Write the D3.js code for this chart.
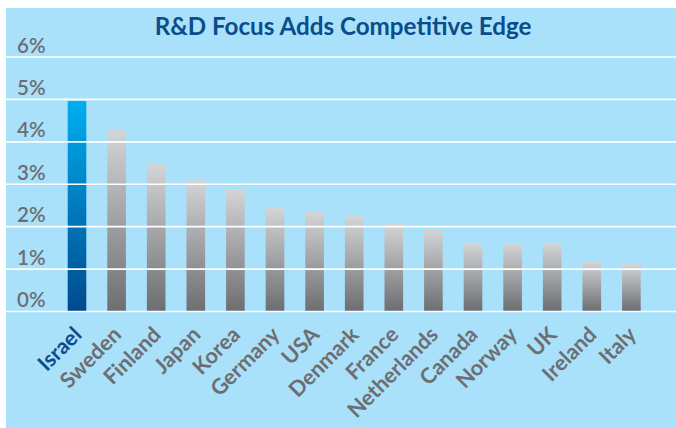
<!DOCTYPE html>
<html lang="en">
<head>
    <meta charset="UTF-8"/>
    <title>R&amp;D Focus Adds Competitive Edge</title>
    <script src="https://d3js.org/d3.v7.min.js"></script>
    <style>
        body { margin: 0; background: #ffffff; }
        text { font-family: Lato, "Open Sans", sans-serif; }
    </style>
</head>
<body>
    <script>
        var w = 676;
        var h = 428;

        // R&D spending as % of GDP
        var countries = ["Israel", "Sweden", "Finland", "Japan", "Korea", "Germany", "USA",
            "Denmark", "France", "Netherlands", "Canada", "Norway", "UK", "Ireland", "Italy"];
        var values = [4.95, 4.27, 3.47, 3.1, 2.87, 2.43, 2.35, 2.24, 2.05, 1.91, 1.6, 1.6, 1.6, 1.16, 1.11];
        var yTicks = [0, 1, 2, 3, 4, 5, 6];
        var highlight = "Israel";

        var svg = d3.select("body")
            .append("svg")
            .attr("width", w)
            .attr("height", h);

        var defs = svg.append("defs");

        var blueGrad = defs.append("linearGradient")
            .attr("id", "blueGrad")
            .attr("x1", 0).attr("y1", 0).attr("x2", 0).attr("y2", 1);
        blueGrad.append("stop").attr("offset", "0%").attr("stop-color", "#00aeef");
        blueGrad.append("stop").attr("offset", "100%").attr("stop-color", "#004a8f");

        var greyGrad = defs.append("linearGradient")
            .attr("id", "greyGrad")
            .attr("x1", 0).attr("y1", 0).attr("x2", 0).attr("y2", 1);
        greyGrad.append("stop").attr("offset", "0%").attr("stop-color", "#d3d5d7");
        greyGrad.append("stop").attr("offset", "100%").attr("stop-color", "#6d6e71");

        // panel
        svg.append("rect")
            .attr("x", 6)
            .attr("y", 8)
            .attr("width", w - 6)
            .attr("height", h - 8)
            .attr("fill", "#a9e0fa");

        var xScale = d3.scaleBand()
            .domain(countries)
            .range([46.7, 661.7])
            .padding(0.53);

        var yScale = d3.scaleLinear()
            .domain([0, 6])
            .range([311, 56.5]);

        // bars
        svg.selectAll("rect.bar")
            .data(countries)
            .enter()
            .append("rect")
            .attr("class", "bar")
            .attr("x", function(d) {
                return xScale(d);
            })
            .attr("y", function(d, i) {
                return yScale(values[i]);
            })
            .attr("width", xScale.bandwidth())
            .attr("height", function(d, i) {
                return yScale(0) - yScale(values[i]);
            })
            .attr("fill", function(d) {
                return d === highlight ? "url(#blueGrad)" : "url(#greyGrad)";
            });

        // gridlines + y labels
        var yAxis = d3.axisLeft(yScale)
            .tickValues(yTicks)
            .tickSize(-(w - 6))
            .tickFormat(function(d) {
                return d + "%";
            });

        var yg = svg.append("g")
            .attr("class", "y axis")
            .attr("transform", "translate(6,0)")
            .call(yAxis);

        yg.select(".domain").remove();
        yg.selectAll(".tick line")
            .attr("stroke", "#ffffff")
            .attr("stroke-width", 1.6);
        yg.selectAll(".tick text")
            .attr("x", 11)
            .attr("dy", "-4.5")
            .attr("text-anchor", "start")
            .attr("font-size", "20.5px")
            .attr("font-weight", "600")
            .attr("fill", "#6d6e71");

        // x labels
        var xAxis = d3.axisBottom(xScale).tickSize(0);

        var xg = svg.append("g")
            .attr("class", "x axis")
            .attr("transform", "translate(0,311)")
            .call(xAxis);

        xg.select(".domain").remove();
        xg.selectAll(".tick text")
            .attr("x", 0)
            .attr("y", 0)
            .attr("dy", 0)
            .attr("text-anchor", "end")
            .attr("transform", "translate(6,25) rotate(-45)")
            .attr("font-size", "21.5px")
            .attr("font-weight", "bold")
            .attr("fill", function(d) {
                return d === highlight ? "#0b4c8c" : "#6d6e71";
            });

        // title
        svg.append("text")
            .attr("x", 343)
            .attr("y", 35)
            .attr("text-anchor", "middle")
            .attr("font-size", "24.2px")
            .attr("font-weight", "bold")
            .attr("fill", "#0b4c8c")
            .text("R&D Focus Adds Competitive Edge");
    </script>
</body>
</html>
